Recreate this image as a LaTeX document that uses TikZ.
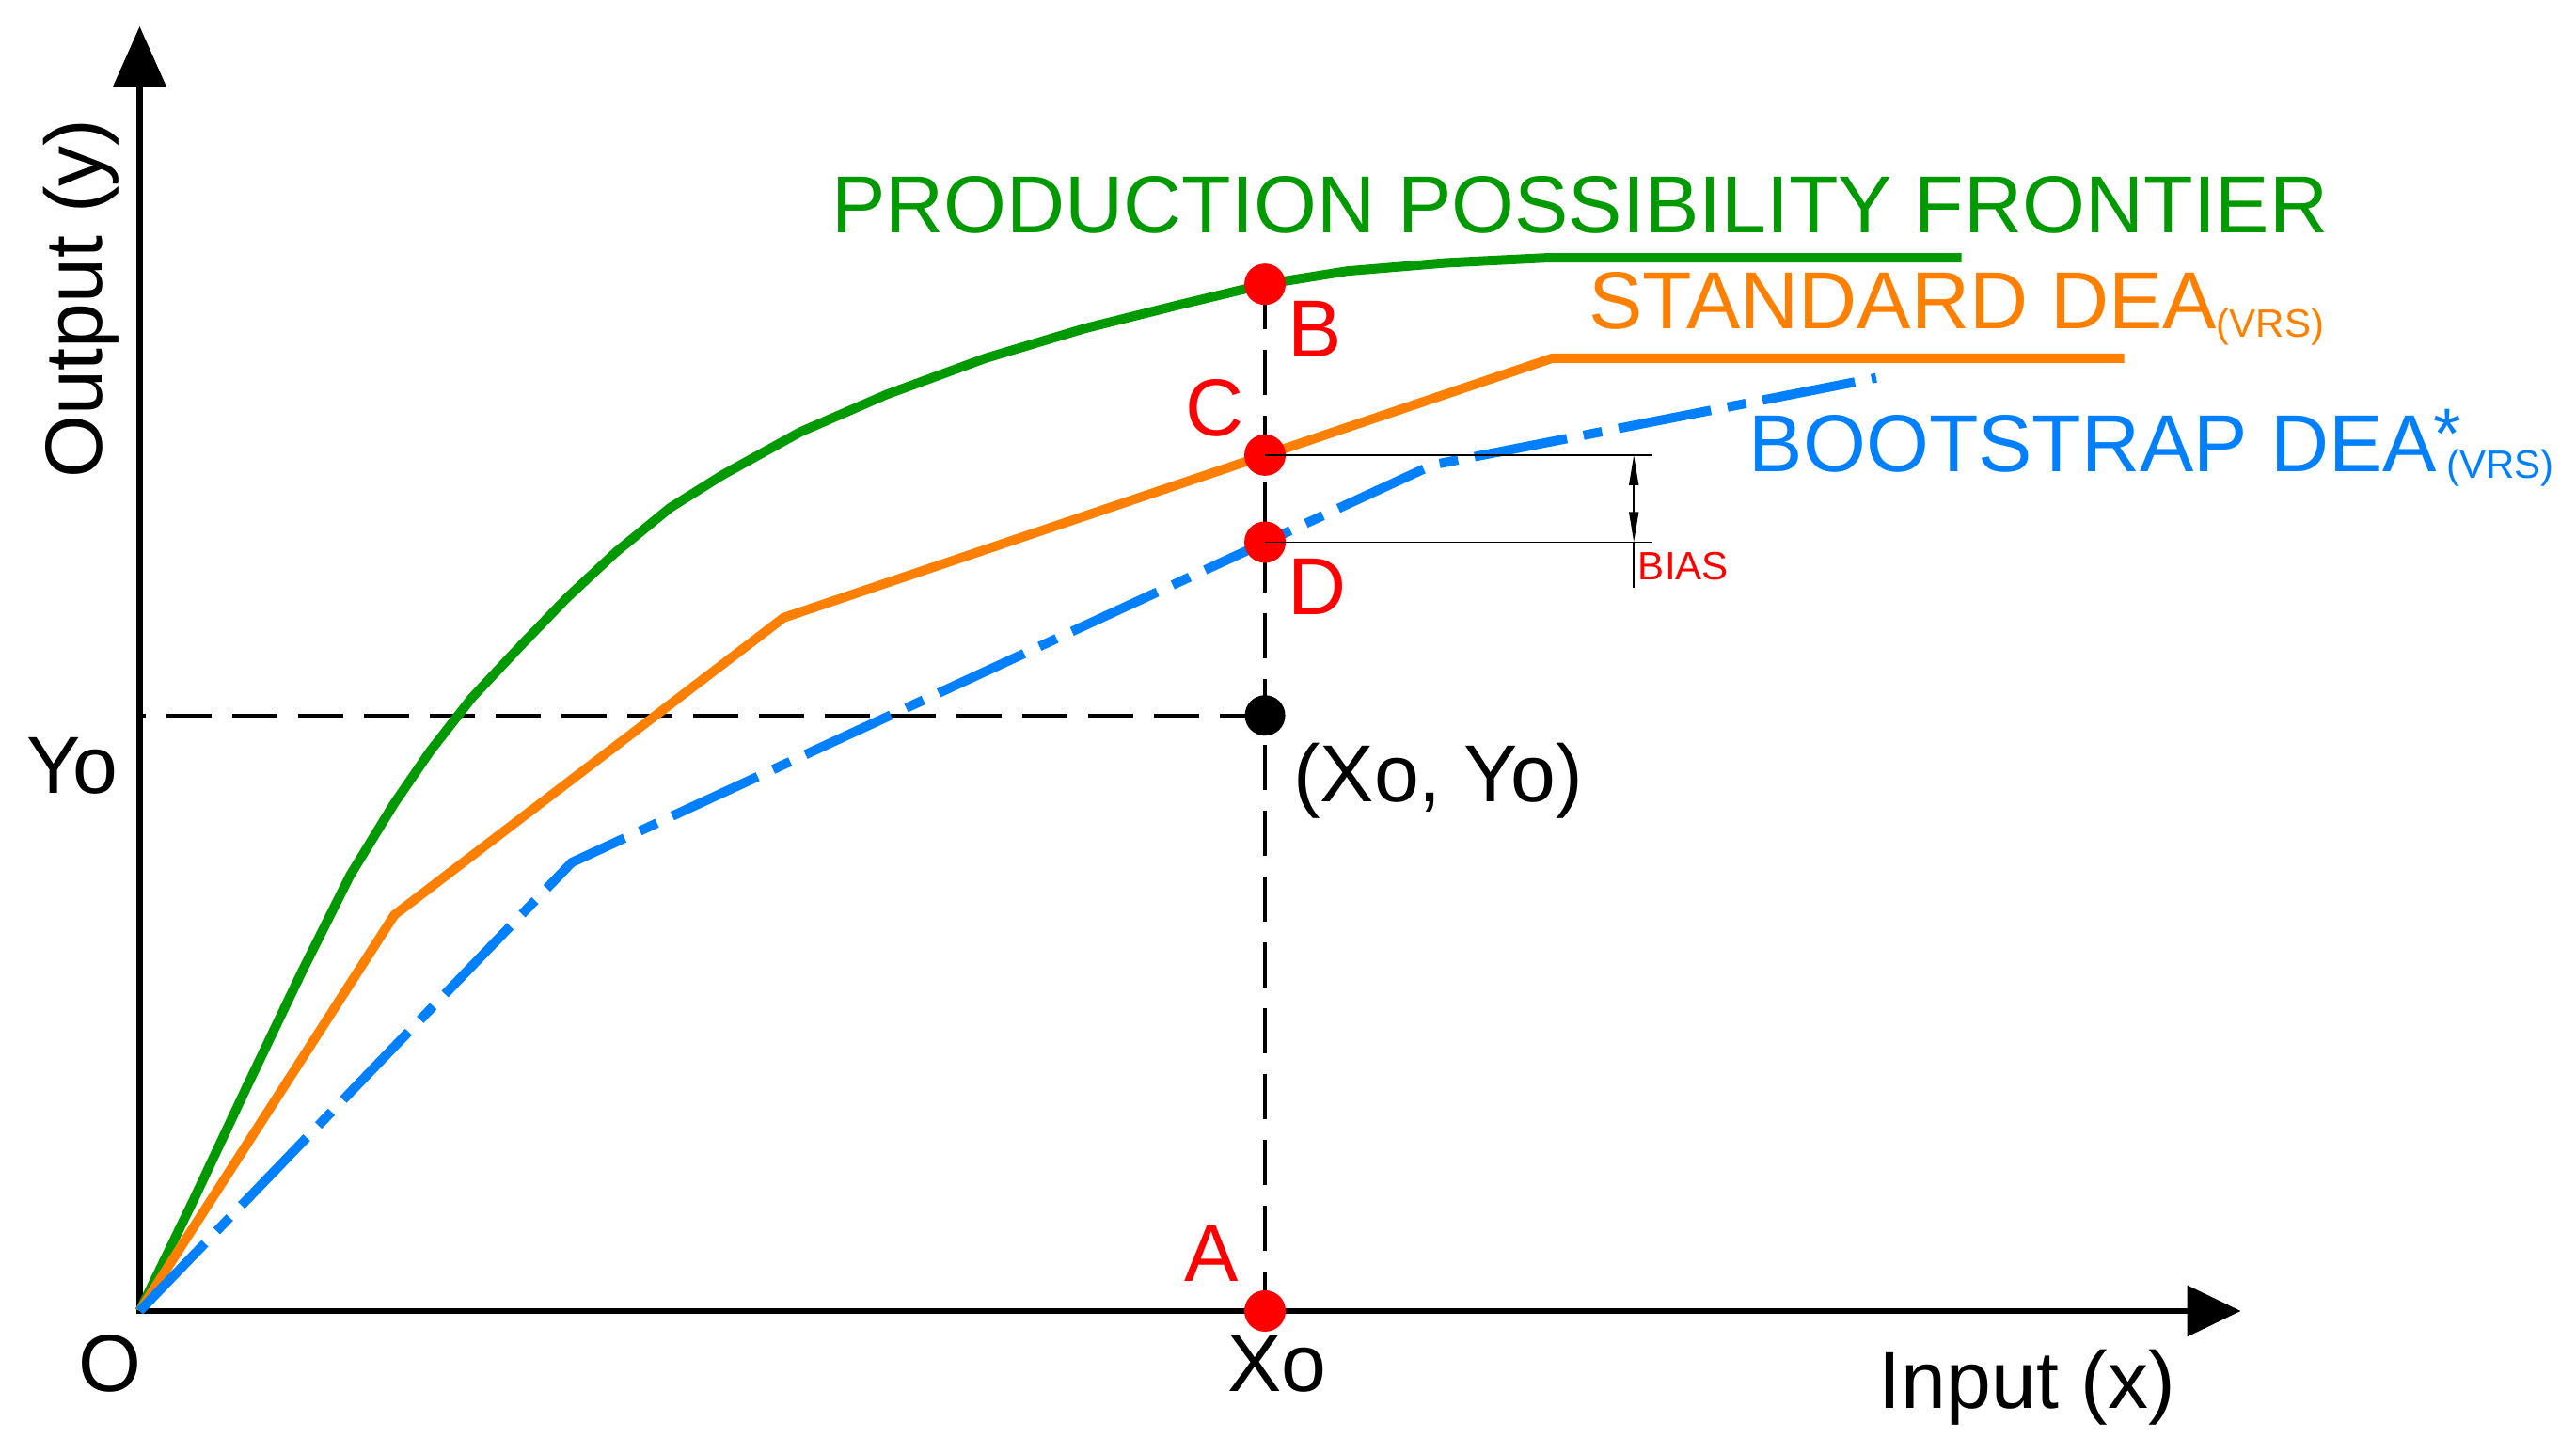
\documentclass[tikz,border=0pt]{standalone}
\usepackage{fontspec}
\setmainfont{Liberation Sans}
\usetikzlibrary{arrows.meta}
\definecolor{ppfgreen}{RGB}{0,153,0}
\definecolor{deaorange}{RGB}{255,128,0}
\definecolor{bootblue}{RGB}{0,128,255}
\definecolor{markred}{RGB}{255,0,0}
\begin{document}
\begin{tikzpicture}[x=0.873406pt,y=-0.873406pt,
  axisline/.style={line width=3.3pt,black},
  guide/.style={line width=2pt,black,dash pattern=on 24pt off 11pt},
  ppf/.style={line width=5pt,ppfgreen,line join=round},
  stddea/.style={line width=5pt,deaorange,line join=round},
  bootdea/.style={line width=5pt,bootblue,line join=round,dash pattern=on 50pt off 9pt on 10pt off 9pt},
  dimline/.style={line width=0.8pt,black},
  reddot/.style={circle,fill=markred,draw=none,inner sep=0pt,minimum size=22pt},
  blackdot/.style={circle,fill=black,draw=none,inner sep=0pt,minimum size=21.5pt},
  lbl/.style={inner sep=0pt,anchor=base west,font=\fontsize{43}{50}\selectfont},
  redlbl/.style={lbl,text=markred},
  sublbl/.style={inner sep=0pt,anchor=base west,font=\fontsize{21}{24}\selectfont}
]
\useasboundingbox (0,0) rectangle (1568,875);

% key coordinates
\coordinate (O) at (85,798);
\coordinate (ytip) at (85,16);
\coordinate (xtip) at (1364,798);
\coordinate (pB) at (770,173);
\coordinate (pC) at (770,277);
\coordinate (pD) at (770,330);
\coordinate (pA) at (770,798);
\coordinate (pP) at (770,435.5);
\coordinate (yo) at (85,435.5);

% guide lines
\draw[guide] (pP) -- (yo);
\draw[guide] (pB) -- (pA);

% axes
\draw[axisline,line cap=rect,-{Triangle[length=32pt,width=27.5pt]}] (O) -- (ytip);
\draw[axisline,line cap=rect,-{Triangle[length=28.5pt,width=26.5pt]}] (O) -- (xtip);

% curves
\draw[ppf] (O) -- (118,730) -- (150,662) -- (184,591) -- (213,533) -- (240,489)
  -- (262,457) -- (287,425) -- (317,393) -- (345,364) -- (375,336) -- (408,309)
  -- (440,289) -- (487,263) -- (540,240) -- (600,218) -- (660,200) -- (720,185)
  -- (pB) -- (820,165) -- (880,160) -- (940,157) -- (1194,157);
\draw[stddea] (O) -- (240,557) -- (477,376) -- (945,218) -- (1293,218);
\draw[bootdea] (O) -- (348,525) -- (872,283) -- (1142,230);

% points
\node[reddot] (B) at (pB) {};
\node[reddot] (C) at (pC) {};
\node[reddot] (D) at (pD) {};
\node[reddot] (A) at (pA) {};
\node[blackdot] (P) at (pP) {};

% bias dimension
\coordinate (bC) at (1006,277);
\coordinate (bD) at (1006,330);
\coordinate (dimT) at (994.5,277);
\coordinate (dimB) at (994.5,330);
\coordinate (dimE) at (994.5,358);
\draw[dimline] (C.center) -- (bC);
\draw[dimline] (D.center) -- (bD);
\draw[dimline,{Triangle[length=16pt,width=5pt]}-{Triangle[length=16pt,width=5pt]}] (dimT) -- (dimB);
\draw[dimline] (dimB) -- (dimE);
\node[sublbl,text=markred] (tBIAS) at (997,353) {BIAS};

% curve labels
\node[lbl,text=ppfgreen] (tPPF) at (506,141.5) {PRODUCTION POSSIBILITY FRONTIER};
\node[lbl,text=deaorange] (tSTD) at (967,200) {STANDARD DEA\raisebox{-4.5pt}{\fontsize{21}{24}\selectfont(VRS)}};
\node[lbl,text=bootblue] (tBOOT) at (1064.5,287) {BOOTSTRAP DEA};
\node[lbl,text=bootblue,font=\fontsize{38}{40}\selectfont] (tStar) at (1481,279) {*};
\node[sublbl,text=bootblue] (tSub) at (1489,291) {(VRS)};

% point labels
\node[redlbl] (tB) at (783.5,217.5) {B};
\node[redlbl] (tC) at (721.5,265.5) {C};
\node[redlbl] (tD) at (783.5,374) {D};
\node[redlbl] (tA) at (721,780) {A};
\node[lbl] (tP) at (787,488) {(Xo, Yo)};

% axis labels
\node[lbl] (tO) at (47.5,847) {O};
\node[lbl] (tXo) at (747,847) {Xo};
\node[lbl] (tYo) at (16,483) {Yo};
\node[lbl] (tIn) at (1143.5,857) {Input (x)};
\node[lbl,rotate=90] (tOut) at (62,291.5) {Output (y)};
\end{tikzpicture}
\end{document}
